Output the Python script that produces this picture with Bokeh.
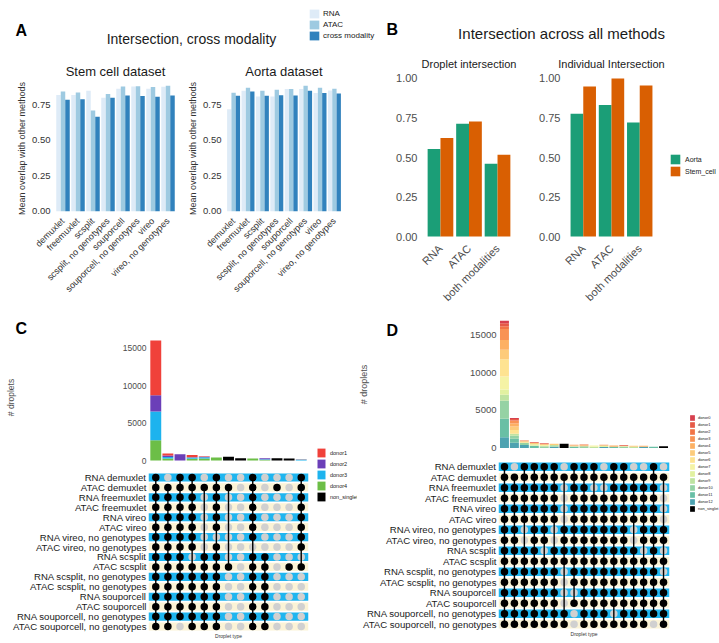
from math import pi
from bokeh.plotting import figure
from bokeh.layouts import row, column
from bokeh.models import (FactorRange, Range1d, FixedTicker, NumeralTickFormatter,
                          Label, Legend, LegendItem, ColumnDataSource)
from bokeh.transform import dodge
from bokeh.embed import file_html
from bokeh.resources import INLINE

FONT = "Liberation Sans"
TXT = "#1a1a1a"
AX = "#4d4d4d"

# ---------------- Panel A data ----------------
methods = ["demuxlet", "freemuxlet", "scsplit", "scsplit, no genotypes", "souporcell",
           "souporcell, no genotypes", "vireo", "vireo, no genotypes"]
modalities = ["RNA", "ATAC", "cross modality"]
stem_rna = [0.82, 0.82, 0.85, 0.80, 0.864, 0.88, 0.864, 0.878]
stem_atac = [0.845, 0.838, 0.71, 0.826, 0.88, 0.882, 0.876, 0.885]
stem_cross = [0.787, 0.79, 0.667, 0.80, 0.817, 0.812, 0.807, 0.817]
aorta_rna = [0.72, 0.85, 0.81, 0.81, 0.862, 0.862, 0.834, 0.852]
aorta_atac = [0.836, 0.871, 0.85, 0.857, 0.862, 0.885, 0.871, 0.864]
aorta_cross = [0.815, 0.845, 0.815, 0.818, 0.817, 0.85, 0.834, 0.83]
a_ticks = [0.0, 0.25, 0.5, 0.75]

# ---------------- Panel B data ----------------
b_modalities = ["RNA", "ATAC", "both modalities"]
datasets = ["Aorta", "Stem_cell"]
droplet_aorta = [0.554, 0.713, 0.46]
droplet_stem = [0.623, 0.727, 0.517]
indiv_aorta = [0.776, 0.832, 0.721]
indiv_stem = [0.949, 1.0, 0.955]
b_ticks = [0.0, 0.25, 0.5, 0.75, 1.0]

# ---------------- Panels C / D data ----------------
matrix_rows = ["RNA demuxlet", "ATAC demuxlet", "RNA freemuxlet", "ATAC freemuxlet",
               "RNA vireo", "ATAC vireo", "RNA vireo, no genotypes", "ATAC vireo, no genotypes",
               "RNA scsplit", "ATAC scsplit", "RNA scsplit, no genotypes", "ATAC scsplit, no genotypes",
               "RNA souporcell", "ATAC souporcell", "RNA souporcell, no genotypes",
               "ATAC souporcell, no genotypes"]
count_ticks = [0, 5000, 10000, 15000]

c_combos = [str(i) for i in range(1, 14)]
c_donors = ["donor1", "donor2", "donor3", "donor4", "non_singlet"]
c_donor1 = [7300, 270, 0, 300, 80, 0, 0, 0, 0, 0, 0, 0, 40]
c_donor2 = [2170, 200, 840, 60, 50, 0, 0, 0, 0, 150, 0, 0, 0]
c_donor3 = [3830, 180, 0, 150, 180, 0, 0, 0, 0, 60, 0, 0, 140]
c_donor4 = [2700, 280, 0, 240, 270, 400, 0, 0, 270, 100, 0, 0, 0]
c_non_singlet = [0, 0, 0, 0, 0, 0, 490, 310, 0, 0, 310, 270, 0]
c_membership = [
    "1011010010001",
    "1111111010101",
    "1111010010001",
    "1111010010001",
    "1111010010001",
    "1111010010001",
    "1111000010001",
    "1111010000001",
    "1110110011000",
    "1111111011011",
    "1111110011000",
    "1111110011000",
    "1111110011000",
    "1111110011000",
    "1111110011000",
    "1101110011000",
]

d_combos = [str(i) for i in range(1, 18)]
d_donors = ["donor0", "donor1", "donor2", "donor3", "donor4", "donor5", "donor6", "donor7",
            "donor8", "donor9", "donor10", "donor11", "donor12", "non_singlet"]
d_donor0 = [350, 150, 0, 0, 60, 0, 0, 0, 0, 0, 0, 0, 0, 0, 0, 0, 0]
d_donor1 = [400, 200, 0, 100, 0, 0, 0, 0, 0, 0, 0, 0, 100, 0, 0, 0, 0]
d_donor2 = [350, 0, 110, 0, 0, 0, 0, 0, 100, 0, 0, 0, 0, 0, 0, 0, 0]
d_donor3 = [1450, 390, 0, 0, 0, 0, 0, 100, 0, 0, 100, 0, 0, 0, 0, 0, 0]
d_donor4 = [1300, 400, 0, 0, 150, 0, 0, 0, 0, 0, 0, 160, 0, 0, 140, 0, 0]
d_donor5 = [1270, 470, 0, 190, 0, 170, 0, 0, 150, 0, 0, 0, 0, 140, 0, 0, 0]
d_donor6 = [2300, 500, 200, 0, 0, 0, 0, 140, 0, 0, 0, 0, 100, 0, 0, 0, 0]
d_donor7 = [1700, 0, 0, 0, 200, 0, 0, 0, 0, 170, 0, 0, 0, 0, 0, 0, 0]
d_donor8 = [700, 0, 0, 200, 0, 0, 0, 0, 0, 0, 190, 0, 0, 0, 0, 0, 0]
d_donor9 = [800, 260, 0, 0, 0, 200, 0, 0, 0, 180, 0, 0, 0, 170, 0, 0, 0]
d_donor10 = [2400, 400, 300, 0, 250, 0, 0, 0, 230, 0, 0, 0, 200, 0, 0, 0, 0]
d_donor11 = [2430, 530, 0, 300, 0, 0, 0, 200, 0, 0, 0, 190, 0, 0, 0, 180, 0]
d_donor12 = [1450, 700, 400, 0, 0, 200, 0, 0, 0, 0, 150, 0, 0, 0, 170, 0, 0]
d_non_singlet = [0, 0, 0, 0, 0, 0, 570, 0, 0, 0, 0, 0, 0, 0, 0, 0, 260]
d_membership = [
    "10111101110110010",
    "11111111111111111",
    "11111101100111110",
    "11111101111111110",
    "11111101111111110",
    "11111101111111110",
    "11011011111110111",
    "11011011111110111",
    "11110111111111010",
    "11111111111111111",
    "11111101111111110",
    "11111101111111111",
    "11111100111111111",
    "11111101111111111",
    "11111110111011111",
    "11111110111111101",
]

# ---------------- styles ----------------
A_COLORS = ["#deebf7", "#9ecae1", "#3182bd"]
B_COLORS = ["#1b9e77", "#d95f02"]
C_COLORS = ["#f0413a", "#6b3fb8", "#1db3ee", "#6cbe47", "#000000"]
D_COLORS = ["#d7404e", "#e65a47", "#f27446", "#f99355", "#fdb063", "#fdcb7b", "#fee391",
            "#f5f3a5", "#e2f1a0", "#bfe3a0", "#95d2a4", "#69bfa5", "#4da2b0", "#000000"]
RNA_BAND = "#1fb5ef"
ATAC_BAND = "#fbf3d6"
GREY_DOT = "#d0d0d0"


def base_fig(w, h, xr, yr, bl, br, bt, bb, xaxis=True, yaxis=True):
    p = figure(width=w, height=h, x_range=xr, y_range=yr, output_backend="svg",
               toolbar_location=None,
               x_axis_location="below" if xaxis else None,
               y_axis_location="left" if yaxis else None)
    p.min_border_left = bl
    p.min_border_right = br
    p.min_border_top = bt
    p.min_border_bottom = bb
    p.outline_line_color = None
    p.grid.visible = False
    for ax in p.axis:
        ax.axis_line_color = None
        ax.major_tick_line_color = None
        ax.minor_tick_line_color = None
        ax.major_tick_in = 0
        ax.major_tick_out = 0
        ax.minor_tick_in = 0
        ax.minor_tick_out = 0
        ax.major_label_text_font = FONT
        ax.axis_label_text_font = FONT
        ax.axis_label_text_font_style = "normal"
    return p


def blank_fig(w, h):
    return base_fig(w, h, Range1d(0, 1), Range1d(0, 1), 0, 0, 0, 0, False, False)


def put_text(p, text, x, y, size, align="left", bold=False, color=TXT, angle=0.0,
             baseline="alphabetic"):
    p.add_layout(Label(x=x, y=y, x_units="screen", y_units="screen", text=text,
                       text_font=FONT, text_font_size=size, text_align=align,
                       text_baseline=baseline, text_color=color, angle=angle,
                       text_font_style="bold" if bold else "normal"))


def set_title(p, text, size):
    p.title.text = text
    p.title.align = "center"
    p.title.text_font = FONT
    p.title.text_font_size = size
    p.title.text_font_style = "normal"
    p.title.text_color = TXT
    p.title.standoff = 2


def make_legend(items, loc, size, gw, gh, lh, standoff):
    return Legend(items=items, location=loc, orientation="vertical",
                  label_text_font=FONT, label_text_font_size=size, label_text_color=TXT,
                  glyph_width=gw, glyph_height=gh, label_height=lh, spacing=0,
                  padding=0, margin=0, label_standoff=standoff,
                  border_line_color=None, background_fill_alpha=0)


# ---------------- headers ----------------
hA = blank_fig(378, 50)
put_text(hA, "A", 15, 20, "16px", bold=True, color="black")
put_text(hA, "Intersection, cross modality", 191, 12, "14px", align="center")
srcA_leg = ColumnDataSource(dict(method=methods, RNA=stem_rna, ATAC=stem_atac, cross=stem_cross))
leg_r = []
for col, c in zip(["RNA", "ATAC", "cross"], A_COLORS):
    r = hA.vbar(x=0.5, top=col, width=0.1, source=srcA_leg, fill_color=c, line_color=None)
    r.visible = False
    leg_r.append(r)
hA.add_layout(make_legend([LegendItem(label=m, renderers=[r]) for m, r in zip(modalities, leg_r)],
                          (308, 9), "8px", 12, 11, 11, 3))

hB = blank_fig(341, 50)
put_text(hB, "B", 8, 21, "16px", bold=True, color="black")
put_text(hB, "Intersection across all methods", 183, 17, "15px", align="center")


# ---------------- panel A ----------------
def panel_a(w, bl, br, title, rna, atac, cross):
    xr = FactorRange(factors=methods, range_padding=0.2, range_padding_units="absolute")
    p = base_fig(w, 260, xr, Range1d(-0.044, 0.929), bl, br, 29, 93)
    src = ColumnDataSource(dict(method=methods, RNA=rna, ATAC=atac, cross=cross))
    for off, col, c in zip([-0.3, 0.0, 0.3], ["RNA", "ATAC", "cross"], A_COLORS):
        p.vbar(x=dodge("method", off, range=xr), top=col, width=0.3, source=src,
               fill_color=c, line_color=None)
    p.yaxis.ticker = FixedTicker(ticks=a_ticks)
    p.yaxis.formatter = NumeralTickFormatter(format="0.00")
    p.yaxis.axis_label = "Mean overlap with other methods"
    p.yaxis.axis_label_text_font_size = "9px"
    p.yaxis.axis_label_text_color = "#333333"
    p.yaxis.major_label_text_font_size = "9.5px"
    p.yaxis.major_label_text_color = "#333333"
    p.yaxis.major_label_standoff = 2
    p.yaxis.axis_label_standoff = 2
    p.xaxis.major_label_orientation = pi / 4
    p.xaxis.major_label_text_font_size = "9px"
    p.xaxis.major_label_text_color = "#333333"
    p.xaxis.major_label_standoff = 2
    set_title(p, title, "13px")
    return p


stem = panel_a(185, 52, 7, "Stem cell dataset", stem_rna, stem_atac, stem_cross)
aorta = panel_a(175, 33, 16, "Aorta dataset", aorta_rna, aorta_atac, aorta_cross)


# ---------------- panel B ----------------
def panel_b(w, bl, br, title, aorta_v, stem_v):
    xr = FactorRange(factors=b_modalities, range_padding=0.2, range_padding_units="absolute")
    p = base_fig(w, 260, xr, Range1d(-0.05, 1.05), bl, br, 20, 64)
    src = ColumnDataSource(dict(mod=b_modalities, Aorta=aorta_v, Stem_cell=stem_v))
    for off, col, c in zip([-0.225, 0.225], datasets, B_COLORS):
        p.vbar(x=dodge("mod", off, range=xr), top=col, width=0.45, source=src,
               fill_color=c, line_color=None)
    p.yaxis.ticker = FixedTicker(ticks=b_ticks)
    p.yaxis.formatter = NumeralTickFormatter(format="0.00")
    p.yaxis.major_label_text_font_size = "11px"
    p.yaxis.major_label_text_color = AX
    p.yaxis.major_label_standoff = 3
    p.xaxis.major_label_orientation = pi / 4
    p.xaxis.major_label_text_font_size = "11px"
    p.xaxis.major_label_text_color = AX
    p.xaxis.major_label_standoff = 2
    set_title(p, title, "11px")
    return p, src


droplet, _ = panel_b(160, 60, 3, "Droplet intersection", droplet_aorta, droplet_stem)
indiv, indiv_src = panel_b(149, 43, 10, "Individual Intersection", indiv_aorta, indiv_stem)

b_leg = blank_fig(50, 260)
b_leg_r = []
for col, c in zip(datasets, B_COLORS):
    r = b_leg.vbar(x=0.5, top=col, width=0.1, source=indiv_src, fill_color=c, line_color=None)
    r.visible = False
    b_leg_r.append(r)
b_leg.add_layout(make_legend([LegendItem(label=d, renderers=[r]) for d, r in zip(datasets, b_leg_r)],
                             (0, 133), "7px", 12, 12, 12, 4))


# ---------------- panels C / D ----------------
def bar_fig(w, h, xr, yr, bl, br, bt, bb, src, stackers, colors, tick_size):
    p = base_fig(w, h, xr, yr, bl, br, bt, bb, xaxis=False, yaxis=True)
    p.vbar_stack(stackers, x="x", width=0.9, source=src, fill_color=colors, line_color=None)
    p.yaxis.ticker = FixedTicker(ticks=count_ticks)
    p.yaxis.major_label_text_font_size = tick_size
    p.yaxis.major_label_text_color = AX
    p.yaxis.major_label_standoff = 2
    return p


def matrix_fig(w, h, xr, bl, br, bt, bb, xs, membership, label_size):
    yr = FactorRange(factors=matrix_rows[::-1])
    p = base_fig(w, h, xr, yr, bl, br, bt, bb)
    band_colors = [RNA_BAND if r.startswith("RNA") else ATAC_BAND for r in matrix_rows]
    p.hbar(y=matrix_rows, left=xr.start, right=xr.end, height=0.82, fill_color=band_colors,
           line_color=None)
    gx, gy, bx, by = [], [], [], []
    for i, r in enumerate(matrix_rows):
        for j, ch in enumerate(membership[i]):
            if ch == "1":
                bx.append(xs[j]); by.append(r)
            else:
                gx.append(xs[j]); gy.append(r)
    p.scatter(x=gx, y=gy, size=7.5, fill_color=GREY_DOT, line_color=None)
    sx, sy0, sy1 = [], [], []
    for j in range(len(xs)):
        on = [matrix_rows[i] for i in range(len(matrix_rows)) if membership[i][j] == "1"]
        if len(on) > 1:
            sx.append(xs[j]); sy0.append(on[0]); sy1.append(on[-1])
    p.segment(x0=sx, y0=sy0, x1=sx, y1=sy1, line_color="black", line_width=1.4)
    p.scatter(x=bx, y=by, size=7.5, fill_color="black", line_color=None)
    p.yaxis.major_label_text_font_size = label_size
    p.yaxis.major_label_text_color = TXT
    p.yaxis.major_label_standoff = 2
    p.xaxis.ticker = FixedTicker(ticks=[])
    p.xaxis.axis_label = "Droplet type"
    p.xaxis.axis_label_text_font_size = "5px"
    p.xaxis.axis_label_text_color = "#333333"
    p.xaxis.axis_label_standoff = 1
    p.xaxis.major_label_standoff = 0
    return p


def legend_fig(w, h, src, stackers, colors, names, loc, size, gw, gh, lh, standoff):
    p = blank_fig(w, h)
    rs = p.vbar_stack(stackers, x="x", width=0.9, source=src, fill_color=colors, line_color=None)
    for r in rs:
        r.visible = False
    by_name = dict(zip(stackers, rs))
    p.add_layout(make_legend([LegendItem(label=n, renderers=[by_name[n]]) for n in names],
                             loc, size, gw, gh, lh, standoff))
    return p


# C
cx = [i + 1 for i in range(len(c_combos))]
c_xr = Range1d(0.4, len(c_combos) + 0.6)
c_src = ColumnDataSource(dict(x=cx, donor1=c_donor1, donor2=c_donor2, donor3=c_donor3,
                              donor4=c_donor4, non_singlet=c_non_singlet))
c_stack = c_donors[::-1]
c_stack_colors = C_COLORS[::-1]
c_left = blank_fig(40, 160)
put_text(c_left, "C", 15, 142, "16px", bold=True, color="black")
put_text(c_left, "# droplets", 10, 73, "8.5px", align="center", color=AX, angle=pi / 2,
         baseline="middle")
c_bar = bar_fig(272, 160, c_xr, Range1d(-800, 16800), 108, 4, 24, 4, c_src, c_stack,
                c_stack_colors, "8.5px")
c_mat = matrix_fig(312, 173, c_xr, 148, 4, 2, 12, cx, c_membership, "9.6px")
c_leg = legend_fig(45, 333, c_src, c_stack, c_stack_colors, c_donors, (4, 141), "5.5px",
                   10, 11, 11, 4)

# D
dx = [i + 1 for i in range(len(d_combos))]
d_xr = Range1d(0.4, len(d_combos) + 0.6)
d_src = ColumnDataSource(dict(x=dx, donor0=d_donor0, donor1=d_donor1, donor2=d_donor2,
                              donor3=d_donor3, donor4=d_donor4, donor5=d_donor5, donor6=d_donor6,
                              donor7=d_donor7, donor8=d_donor8, donor9=d_donor9, donor10=d_donor10,
                              donor11=d_donor11, donor12=d_donor12, non_singlet=d_non_singlet))
d_stack = d_donors[::-1]
d_stack_colors = D_COLORS[::-1]
d_left = blank_fig(43, 147)
put_text(d_left, "D", 29, 127, "16px", bold=True, color="black")
put_text(d_left, "# droplets", 6, 73, "9px", align="center", color=AX, angle=pi / 2,
         baseline="middle")
d_bar = bar_fig(283, 147, d_xr, Range1d(-850, 17850), 98, 14, 3, 3, d_src, d_stack,
                d_stack_colors, "9.5px")
d_mat = matrix_fig(326, 186, d_xr, 141, 14, 4, 14, dx, d_membership, "9.6px")
d_leg = legend_fig(36, 333, d_src, d_stack, d_stack_colors, d_donors, (6, 131), "4px", 6, 7, 7, 3)

layout = column(
    row(column(hA), column(hB)),
    row(column(stem), column(aorta), column(droplet), column(indiv), column(b_leg)),
    row(column(row(column(c_left), column(c_bar)), c_mat), column(c_leg),
        column(row(column(d_left), column(d_bar)), d_mat), column(d_leg)),
)

open("out.html", "w").write(file_html(layout, INLINE))
